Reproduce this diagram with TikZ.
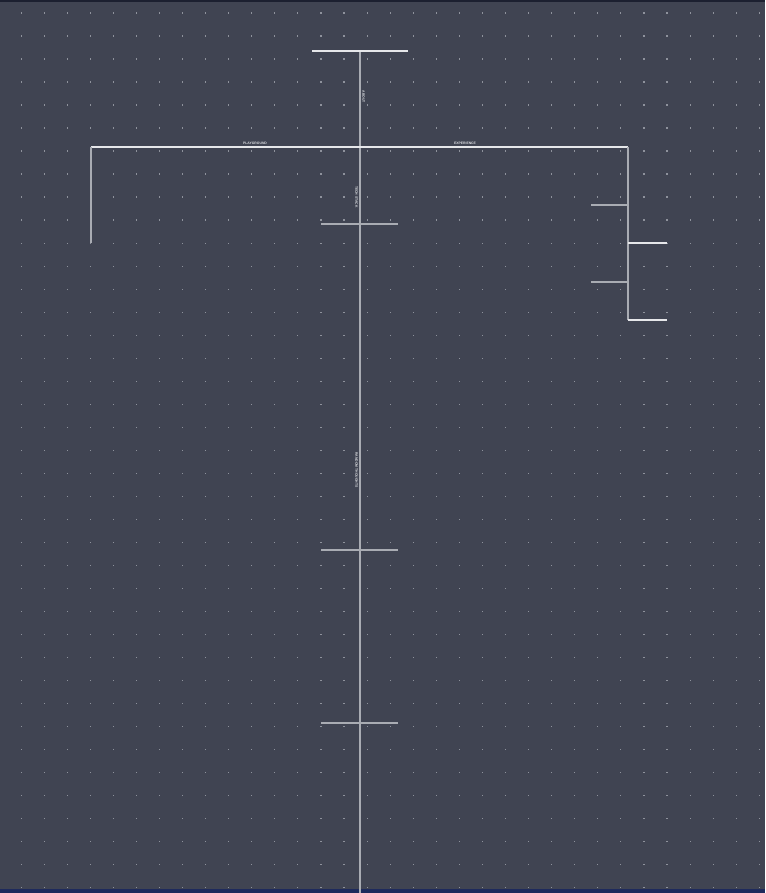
\documentclass[tikz,border=0pt]{standalone}
\usepackage{fontspec}
\setsansfont{Liberation Sans}
\definecolor{bg}{HTML}{404452}
\definecolor{topbar}{HTML}{1C2030}
\definecolor{botbar}{HTML}{1E2A5C}
\definecolor{dotc}{HTML}{8E929C}
\definecolor{brightline}{HTML}{E6E7EA}
\definecolor{dimline}{HTML}{A9ACB3}
\definecolor{labelc}{HTML}{DADCE0}
\tikzset{
  bright/.style={draw=brightline, line width=1.3pt},
  dim/.style={draw=dimline, line width=1.3pt},
  lbl/.style={text=labelc, font=\fontsize{3.4}{4}\selectfont\sffamily\bfseries, inner sep=0pt},
}
\begin{document}
\begin{tikzpicture}[x=1pt,y=-1pt]
\useasboundingbox (0,0) rectangle (765,893);
\fill[bg] (0,0) rectangle (765,893);
\fill[topbar] (0,0) rectangle (765,2);
\fill[botbar] (0,889) rectangle (765,893);
% dot grid
\foreach \i in {0,...,32}{
  \foreach \j in {0,...,38}{
    \fill[dotc] ({21+23.07*\i-0.5},{13+23*\j-0.5}) rectangle ++(1.1,1.1);
  }
}
% coordinates
\coordinate (top) at (360,51);
\coordinate (topL) at (312,51);
\coordinate (topR) at (408,51);
\coordinate (mid) at (360,147);
\coordinate (bot) at (360,893);
\coordinate (hL) at (91,147);
\coordinate (hR) at (628,147);
\coordinate (lEnd) at (91,243);
\coordinate (rEnd) at (628,320);
\coordinate (r1) at (628,205);
\coordinate (r1e) at (591,205);
\coordinate (r2) at (628,243);
\coordinate (r2e) at (667,243);
\coordinate (r3) at (628,282);
\coordinate (r3e) at (591,282);
\coordinate (r4e) at (667,320);
\coordinate (t1L) at (321,224);
\coordinate (t1R) at (398,224);
\coordinate (t2L) at (321,550);
\coordinate (t2R) at (398,550);
\coordinate (t3L) at (321,723);
\coordinate (t3R) at (398,723);
% lines
\draw[dim] (top) -- (bot);
\draw[bright] (topL) -- (topR);
\draw[bright] (hL) -- (hR);
\draw[dim] (hL) -- (lEnd);
\draw[dim] (hR) -- (rEnd);
\draw[dim] (r1) -- (r1e);
\draw[bright] (r2) -- (r2e);
\draw[dim] (r3) -- (r3e);
\draw[bright] (rEnd) -- (r4e);
\draw[dim] (t1L) -- (t1R);
\draw[dim] (t2L) -- (t2R);
\draw[dim] (t3L) -- (t3R);
% labels
\node[lbl, rotate=-90] (labout) at (363.5,97) {ABOUT};
\node[lbl] (lplay) at (255,143.5) {PLAYGROUND};
\node[lbl] (lexp) at (465,143.5) {EXPERIENCE};
\node[lbl, rotate=-90] (ltech) at (356.5,197) {TECH STACK};
\node[lbl, rotate=-90] (lrand) at (356.5,470) {RANDOM THOUGHTS};
\end{tikzpicture}
\end{document}
